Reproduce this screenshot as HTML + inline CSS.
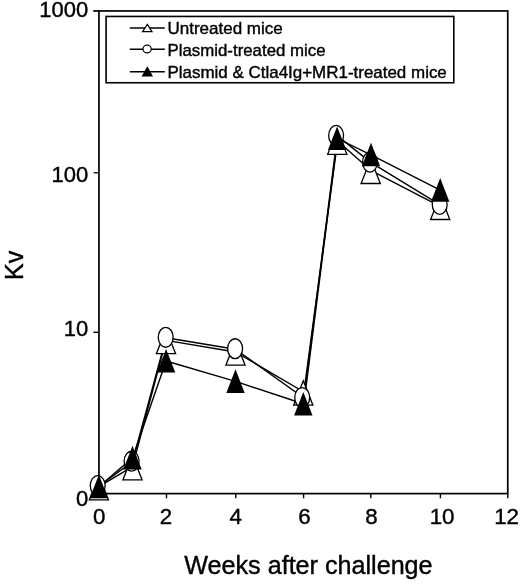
<!DOCTYPE html>
<html><head><meta charset="utf-8"><title>Kv chart</title>
<style>html,body{margin:0;padding:0;background:#fff}svg{display:block}text{font-family:"Liberation Sans",Arial,sans-serif;fill:#000;stroke:#000;stroke-width:0.4px}</style></head><body>
<svg width="520" height="584" viewBox="0 0 520 584">
<rect width="520" height="584" fill="#fff"/>
<rect x="98.95" y="10.95" width="408.8" height="482.65" fill="none" stroke="#000" stroke-width="1.7"/>
<line x1="93.2" y1="10.95" x2="99" y2="10.95" stroke="#000" stroke-width="1.7"/>
<line x1="93.6" y1="172.8" x2="99" y2="172.8" stroke="#000" stroke-width="1.3"/>
<line x1="93.4" y1="332.3" x2="99" y2="332.3" stroke="#000" stroke-width="1.4"/>
<line x1="93.2" y1="493.6" x2="99" y2="493.6" stroke="#000" stroke-width="1.7"/>
<line x1="99.0" y1="493.7" x2="99.0" y2="498.3" stroke="#000" stroke-width="1.4"/>
<line x1="166.5" y1="493.7" x2="166.5" y2="498.3" stroke="#000" stroke-width="1.4"/>
<line x1="235.8" y1="493.7" x2="235.8" y2="498.3" stroke="#000" stroke-width="1.4"/>
<line x1="303.6" y1="493.7" x2="303.6" y2="498.3" stroke="#000" stroke-width="1.4"/>
<line x1="370.8" y1="493.7" x2="370.8" y2="498.3" stroke="#000" stroke-width="1.4"/>
<line x1="440.4" y1="493.7" x2="440.4" y2="498.3" stroke="#000" stroke-width="1.4"/>
<line x1="507.8" y1="493.7" x2="507.8" y2="498.3" stroke="#000" stroke-width="1.4"/>
<polyline points="98.9,486.6 132.5,466.6 166.0,340.4 235.5,352.0 303.9,392.0 337.6,141.1 370.7,170.3 440.2,206.3" fill="none" stroke="#000" stroke-width="1.4" stroke-linejoin="round"/>
<polyline points="98.9,486.1 132.5,461.7 166.1,337.8 235.5,349.2 303.9,398.0 337.4,135.9 371.0,162.6 440.2,204.9" fill="none" stroke="#000" stroke-width="1.4" stroke-linejoin="round"/>
<polyline points="98.9,486.8 132.5,457.9 166.1,361.0 235.5,381.4 303.9,404.0 337.4,138.6 371.0,154.8 440.2,190.2" fill="none" stroke="#000" stroke-width="1.4" stroke-linejoin="round"/>
<polygon points="98.9,475.4 108.5,499.9 89.3,499.9" fill="#fff" stroke="#000" stroke-width="1.3"/>
<polygon points="132.5,455.4 142.1,479.9 122.9,479.9" fill="#fff" stroke="#000" stroke-width="1.3"/>
<polygon points="166.0,329.2 175.6,353.7 156.4,353.7" fill="#fff" stroke="#000" stroke-width="1.3"/>
<polygon points="235.5,340.8 245.1,365.2 225.9,365.2" fill="#fff" stroke="#000" stroke-width="1.3"/>
<polygon points="303.3,380.8 312.9,405.2 293.7,405.2" fill="#fff" stroke="#000" stroke-width="1.3"/>
<polygon points="337.3,129.9 346.9,154.3 327.7,154.3" fill="#fff" stroke="#000" stroke-width="1.3"/>
<polygon points="370.7,159.1 380.3,183.5 361.1,183.5" fill="#fff" stroke="#000" stroke-width="1.3"/>
<polygon points="440.2,195.1 449.8,219.5 430.6,219.5" fill="#fff" stroke="#000" stroke-width="1.3"/>
<ellipse cx="97.7" cy="485.6" rx="7.45" ry="9.95" fill="#fff" stroke="#000" stroke-width="1.3"/>
<ellipse cx="131.6" cy="461.2" rx="7.45" ry="9.95" fill="#fff" stroke="#000" stroke-width="1.3"/>
<ellipse cx="165.7" cy="337.3" rx="7.45" ry="9.95" fill="#fff" stroke="#000" stroke-width="1.3"/>
<ellipse cx="235.1" cy="348.7" rx="7.45" ry="9.95" fill="#fff" stroke="#000" stroke-width="1.3"/>
<ellipse cx="302.2" cy="397.5" rx="7.45" ry="9.95" fill="#fff" stroke="#000" stroke-width="1.3"/>
<ellipse cx="336.1" cy="135.4" rx="7.45" ry="9.95" fill="#fff" stroke="#000" stroke-width="1.3"/>
<ellipse cx="370.0" cy="162.1" rx="7.45" ry="9.95" fill="#fff" stroke="#000" stroke-width="1.3"/>
<ellipse cx="439.7" cy="204.4" rx="7.45" ry="9.95" fill="#fff" stroke="#000" stroke-width="1.3"/>
<polygon points="98.9,474.7 108.1,498.3 89.7,498.3" fill="#000"/>
<polygon points="132.5,445.8 141.7,469.4 123.3,469.4" fill="#000"/>
<polygon points="166.1,348.9 175.3,372.5 156.9,372.5" fill="#000"/>
<polygon points="235.5,369.3 244.7,392.9 226.3,392.9" fill="#000"/>
<polygon points="303.3,391.9 312.5,415.5 294.1,415.5" fill="#000"/>
<polygon points="337.1,126.5 346.3,150.1 327.9,150.1" fill="#000"/>
<polygon points="371.0,142.7 380.2,166.3 361.8,166.3" fill="#000"/>
<polygon points="440.2,178.1 449.4,201.7 431.0,201.7" fill="#000"/>
<rect x="106.1" y="16.45" width="347.7" height="66.3" fill="#fff" stroke="#000" stroke-width="1.6"/>
<line x1="129.8" y1="28.1" x2="164.8" y2="28.1" stroke="#000" stroke-width="1.5"/>
<line x1="129.8" y1="49.3" x2="164.8" y2="49.3" stroke="#000" stroke-width="1.5"/>
<line x1="129.8" y1="71.7" x2="164.8" y2="71.7" stroke="#000" stroke-width="1.5"/>
<polygon points="147.3,24.4 152,31.7 142.6,31.7" fill="#fff" stroke="#000" stroke-width="1.2"/>
<ellipse cx="147.1" cy="49" rx="4.1" ry="3.8" fill="#fff" stroke="#000" stroke-width="1.2"/>
<polygon points="147.3,66.2 153,76.4 141.6,76.4" fill="#000"/>
<text x="167.5" y="34.4" font-size="17" textLength="115.25" lengthAdjust="spacingAndGlyphs">Untreated mice</text>
<text x="167.5" y="56" font-size="17" textLength="158.1" lengthAdjust="spacingAndGlyphs">Plasmid-treated mice</text>
<text x="167.5" y="77.7" font-size="17" textLength="279.3" lengthAdjust="spacingAndGlyphs">Plasmid &amp; Ctla4Ig+MR1-treated mice</text>
<text x="88.3" y="17.3" font-size="22" text-anchor="end">1000</text>
<text x="88.3" y="182.2" font-size="22" text-anchor="end">100</text>
<text x="88.3" y="335.8" font-size="22" text-anchor="end">10</text>
<text x="88.3" y="506.2" font-size="22" text-anchor="end">0</text>
<text x="99.2" y="523.5" font-size="22.3" text-anchor="middle">0</text>
<text x="166.0" y="523.5" font-size="22.3" text-anchor="middle">2</text>
<text x="235.8" y="523.5" font-size="22.3" text-anchor="middle">4</text>
<text x="304.4" y="523.5" font-size="22.3" text-anchor="middle">6</text>
<text x="371.5" y="523.5" font-size="22.3" text-anchor="middle">8</text>
<text x="442.1" y="523.5" font-size="22.3" text-anchor="middle">10</text>
<text x="506.6" y="523.5" font-size="22.3" text-anchor="middle">12</text>
<text x="184.3" y="574.2" font-size="25.15">Weeks after challenge</text>
<text transform="translate(22.6,280) rotate(-90)" font-size="25">Kv</text>
</svg></body></html>
